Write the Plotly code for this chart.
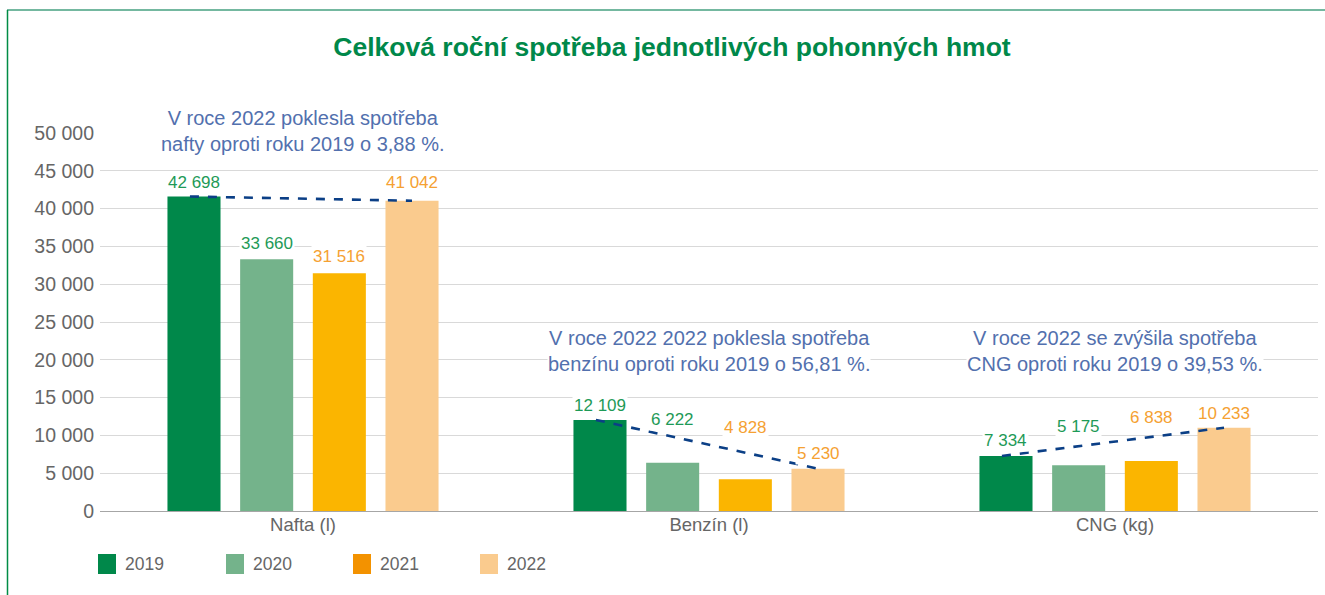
import plotly.graph_objects as go

# ---------------- data ----------------
categories = ["Nafta (l)", "Benzín (l)", "CNG (kg)"]
years = ["2019", "2020", "2021", "2022"]

# bar heights as drawn in the chart
bars_2019 = [41600, 12050, 7280]
bars_2020 = [33300, 6390, 6040]
bars_2021 = [31450, 4190, 6610]
bars_2022 = [41040, 5600, 11020]

# value labels printed above the bars
labels_2019 = [42698, 12109, 7334]
labels_2020 = [33660, 6222, 5175]
labels_2021 = [31516, 4828, 6838]
labels_2022 = [41042, 5230, 10233]

notes = [
    "V roce 2022 poklesla spotřeba<br>nafty oproti roku 2019 o 3,88 %.",
    "V roce 2022 2022 poklesla spotřeba<br>benzínu oproti roku 2019 o 56,81 %.",
    "V roce 2022 se zvýšila spotřeba<br>CNG oproti roku 2019 o 39,53 %.",
]

y_ticks = [0, 5000, 10000, 15000, 20000, 25000, 30000, 35000, 40000, 45000, 50000]

# ---------------- style / positions ----------------
bar_colors = ["#00884A", "#74B38B", "#FBB500", "#FACB8E"]
legend_colors = ["#00884A", "#74B38B", "#F39200", "#FACB8E"]
label_colors = ["#1E9A57", "#1E9A57", "#F5A132", "#F5A132"]
note_color = "#5270AE"
font = "Liberation Sans"

bargap = 0.284
bargroupgap = 0.27
slot = (1 - bargap) / 4

# label vertical positions (data units) per year, per category
label_pos = [
    [43390, 14020, 9260],
    [35320, 12040, 11240],
    [33600, 11110, 12430],
    [43390, 7670, 12960],
]
note_px_y = [131, 351, 351]   # vertical centre of the notes, in page pixels

W, H = 1325, 595
ml, mr, mt, mb = 100, 7, 133, 84

all_bars = [bars_2019, bars_2020, bars_2021, bars_2022]
all_labels = [labels_2019, labels_2020, labels_2021, labels_2022]

pw = W - ml - mr
ph = H - mt - mb
def px_x(p):
    return (p - ml) / pw
def px_y(p):
    return (H - mb - p) / ph

fig = go.Figure()
xs = list(range(len(categories)))
for i, yr in enumerate(years):
    fig.add_trace(go.Bar(
        x=xs, y=all_bars[i], name=yr,
        marker=dict(color=bar_colors[i], line=dict(width=0)),
        showlegend=False, hoverinfo="skip",
    ))

def fmt(v):
    return f"{v:,}".replace(",", " ")

annotations = []
for i in range(4):
    for c in xs:
        annotations.append(dict(
            x=c + (i - 1.5) * slot, y=label_pos[i][c], xref="x", yref="y",
            text=fmt(all_labels[i][c]), showarrow=False,
            font=dict(family=font, size=17, color=label_colors[i]),
            bgcolor="white", borderpad=1,
        ))

# dashed trend lines 2019 -> 2022
for c in xs:
    fig.add_trace(go.Scatter(
        x=[c - 1.5 * slot - 0.01, c + 1.5 * slot],
        y=[bars_2019[c], bars_2022[c]],
        mode="lines", line=dict(color="#0B3F86", width=2.6, dash="dash"),
        showlegend=False, hoverinfo="skip",
    ))

for c in xs:
    annotations.append(dict(
        x=c, y=px_y(note_px_y[c]), xref="x", yref="paper", text=notes[c],
        showarrow=False, yanchor="middle",
        font=dict(family=font, size=20, color=note_color),
        bgcolor="white", borderpad=0, align="center",
    ))

# manual legend
shapes = []
leg_x = [98, 226, 353, 480]
for i, yr in enumerate(years):
    shapes.append(dict(type="rect", xref="paper", yref="paper",
                       x0=px_x(leg_x[i]), x1=px_x(leg_x[i] + 18),
                       y0=px_y(574), y1=px_y(554),
                       fillcolor=legend_colors[i], line=dict(width=0)))
    annotations.append(dict(
        x=px_x(leg_x[i] + 25), y=px_y(564), xref="paper", yref="paper",
        xanchor="left", yanchor="middle", text=yr, showarrow=False,
        font=dict(family=font, size=17.5, color="#666666"),
    ))

# frame
shapes.append(dict(type="line", xref="paper", yref="paper",
                   x0=px_x(7), x1=px_x(1326), y0=px_y(10), y1=px_y(10),
                   line=dict(color="#74B8A0", width=2)))
shapes.append(dict(type="line", xref="paper", yref="paper",
                   x0=px_x(7.5), x1=px_x(7.5), y0=px_y(10), y1=px_y(596),
                   line=dict(color="#008C45", width=1.5)))

fig.update_layout(
    width=W, height=H,
    margin=dict(l=ml, r=mr, t=mt, b=mb),
    paper_bgcolor="white", plot_bgcolor="white",
    barmode="group", bargap=bargap, bargroupgap=bargroupgap,
    separators=", ",
    title=dict(text="<b>Celková roční spotřeba jednotlivých pohonných hmot</b>",
               x=672 / W, xref="container", xanchor="center",
               y=1 - 47 / H, yref="container", yanchor="middle",
               font=dict(family=font, size=26.5, color="#00884A")),
    xaxis=dict(range=[-0.5, 2.5], tickvals=xs, ticktext=categories,
               showgrid=False, zeroline=False, showline=False, ticks="",
               tickfont=dict(family=font, size=18.5, color="#666666")),
    yaxis=dict(range=[0, 50000], tickvals=y_ticks, tickformat=",d",
               showgrid=True, gridcolor="#D9D9D9", gridwidth=1,
               zeroline=True, zerolinecolor="#A6A6A6", zerolinewidth=1.2,
               showline=False, ticks="", ticklabelstandoff=5,
               tickfont=dict(family=font, size=19.5, color="#666666")),
    annotations=annotations, shapes=shapes,
    showlegend=False,
)

fig.write_html("out.html", config={"displayModeBar": False},
               post_script="document.body.style.margin='0';document.body.style.overflow='hidden';")
